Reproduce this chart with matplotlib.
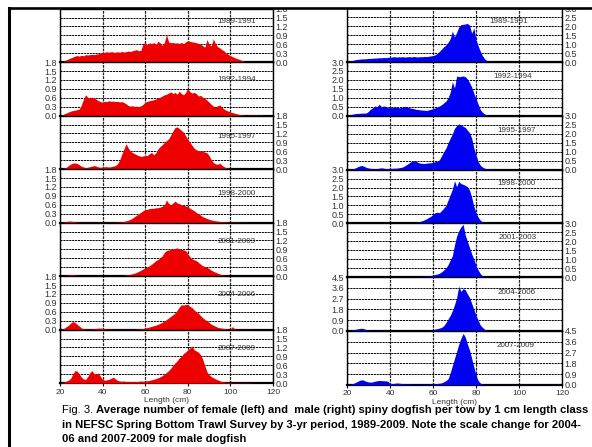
import numpy as np
import matplotlib
matplotlib.use("Agg")
import matplotlib.pyplot as plt
from matplotlib.lines import Line2D
from matplotlib.patches import Rectangle

plt.rcParams['font.family'] = ['Liberation Sans', 'DejaVu Sans']

# length classes (cm), 20..120
lengths = np.arange(20, 121)

periods = ['1989-1991', '1992-1994', '1995-1997', '1998-2000',
           '2001-2003', '2004-2006', '2007-2009']

# females, average number per tow by 1 cm class
female_8991 = [0.00, 0.02, 0.05, 0.08, 0.11, 0.14, 0.17, 0.20, 0.22, 0.20,
               0.23, 0.21, 0.25, 0.24, 0.25, 0.26, 0.25, 0.27, 0.28, 0.30,
               0.32, 0.33, 0.35, 0.33, 0.35, 0.34, 0.33, 0.35, 0.33, 0.36,
               0.34, 0.35, 0.37, 0.36, 0.38, 0.40, 0.42, 0.38, 0.40, 0.62,
               0.66, 0.58, 0.65, 0.62, 0.66, 0.60, 0.70, 0.65, 0.56, 0.66,
               0.93, 0.68, 0.65, 0.66, 0.64, 0.65, 0.63, 0.66, 0.62, 0.68,
               0.72, 0.70, 0.68, 0.67, 0.65, 0.63, 0.60, 0.55, 0.50, 0.76,
               0.60, 0.55, 0.78, 0.62, 0.52, 0.48, 0.42, 0.38, 0.30, 0.26,
               0.22, 0.18, 0.15, 0.12, 0.10, 0.07, 0.04, 0.02, 0.01, 0.01,
               0.01, 0.01, 0.01, 0.01, 0.01, 0.01, 0.00, 0.00, 0.00, 0.00,
               0.00]
female_9294 = [0.00, 0.02, 0.06, 0.09, 0.12, 0.15, 0.17, 0.18, 0.20, 0.22,
               0.35, 0.55, 0.70, 0.62, 0.58, 0.62, 0.60, 0.55, 0.50, 0.47,
               0.45, 0.48, 0.47, 0.50, 0.48, 0.49, 0.47, 0.48, 0.46, 0.47,
               0.44, 0.40, 0.34, 0.32, 0.33, 0.31, 0.32, 0.30, 0.33, 0.38,
               0.45, 0.48, 0.50, 0.52, 0.53, 0.56, 0.60, 0.62, 0.66, 0.70,
               0.72, 0.76, 0.80, 0.74, 0.78, 0.72, 0.82, 0.74, 0.70, 0.78,
               0.92, 0.80, 0.76, 0.78, 0.74, 0.66, 0.68, 0.62, 0.58, 0.52,
               0.45, 0.38, 0.32, 0.28, 0.33, 0.36, 0.28, 0.22, 0.18, 0.15,
               0.12, 0.10, 0.08, 0.06, 0.04, 0.03, 0.02, 0.01, 0.01, 0.02,
               0.01, 0.02, 0.02, 0.01, 0.02, 0.01, 0.01, 0.00, 0.00, 0.00,
               0.00]
female_9597 = [0.00, 0.02, 0.04, 0.06, 0.12, 0.17, 0.20, 0.21, 0.19, 0.15,
               0.10, 0.07, 0.05, 0.06, 0.08, 0.10, 0.12, 0.10, 0.07, 0.06,
               0.07, 0.08, 0.08, 0.07, 0.08, 0.10, 0.12, 0.18, 0.30, 0.50,
               0.68, 0.85, 0.72, 0.60, 0.56, 0.52, 0.48, 0.45, 0.43, 0.44,
               0.45, 0.46, 0.52, 0.56, 0.48, 0.55, 0.68, 0.76, 0.82, 0.90,
               0.96, 1.02, 1.15, 1.28, 1.40, 1.42, 1.36, 1.30, 1.24, 1.12,
               1.00, 0.90, 0.80, 0.70, 0.65, 0.62, 0.60, 0.60, 0.57, 0.55,
               0.45, 0.32, 0.22, 0.18, 0.16, 0.20, 0.13, 0.08, 0.05, 0.03,
               0.02, 0.01, 0.01, 0.01, 0.01, 0.01, 0.01, 0.01, 0.01, 0.01,
               0.01, 0.01, 0.01, 0.01, 0.00, 0.00, 0.00, 0.00, 0.00, 0.00,
               0.00]
female_9800 = [0.00, 0.01, 0.03, 0.04, 0.05, 0.05, 0.04, 0.03, 0.02, 0.01,
               0.01, 0.01, 0.01, 0.01, 0.01, 0.01, 0.01, 0.01, 0.01, 0.01,
               0.01, 0.01, 0.01, 0.01, 0.01, 0.01, 0.01, 0.02, 0.02, 0.03,
               0.04, 0.06, 0.08, 0.11, 0.15, 0.20, 0.25, 0.30, 0.35, 0.40,
               0.43, 0.45, 0.47, 0.48, 0.48, 0.50, 0.50, 0.52, 0.55, 0.60,
               0.76, 0.65, 0.60, 0.66, 0.72, 0.66, 0.64, 0.60, 0.58, 0.56,
               0.54, 0.48, 0.44, 0.40, 0.34, 0.30, 0.25, 0.20, 0.17, 0.14,
               0.11, 0.09, 0.07, 0.06, 0.05, 0.04, 0.03, 0.03, 0.02, 0.02,
               0.01, 0.01, 0.02, 0.02, 0.01, 0.01, 0.01, 0.01, 0.00, 0.00,
               0.00, 0.00, 0.00, 0.00, 0.00, 0.00, 0.00, 0.00, 0.00, 0.00,
               0.00]
female_0103 = [0.00, 0.01, 0.02, 0.03, 0.04, 0.05, 0.05, 0.04, 0.03, 0.02,
               0.01, 0.01, 0.01, 0.01, 0.01, 0.01, 0.01, 0.01, 0.01, 0.01,
               0.01, 0.01, 0.01, 0.01, 0.01, 0.01, 0.02, 0.02, 0.02, 0.02,
               0.03, 0.04, 0.05, 0.06, 0.08, 0.10, 0.13, 0.16, 0.20, 0.24,
               0.28, 0.31, 0.35, 0.40, 0.46, 0.52, 0.56, 0.62, 0.68, 0.80,
               0.86, 0.88, 0.90, 0.91, 0.93, 0.95, 0.92, 0.90, 0.88, 0.86,
               0.75, 0.65, 0.58, 0.55, 0.52, 0.46, 0.40, 0.35, 0.32, 0.30,
               0.25, 0.20, 0.16, 0.13, 0.10, 0.07, 0.05, 0.04, 0.03, 0.02,
               0.02, 0.01, 0.01, 0.01, 0.01, 0.00, 0.00, 0.00, 0.00, 0.00,
               0.00, 0.00, 0.00, 0.00, 0.00, 0.00, 0.00, 0.00, 0.00, 0.00,
               0.00]
female_0406 = [0.00, 0.02, 0.05, 0.10, 0.15, 0.22, 0.27, 0.24, 0.18, 0.12,
               0.06, 0.03, 0.02, 0.02, 0.02, 0.02, 0.03, 0.04, 0.05, 0.05,
               0.04, 0.03, 0.02, 0.02, 0.01, 0.01, 0.01, 0.01, 0.01, 0.01,
               0.01, 0.01, 0.01, 0.01, 0.01, 0.01, 0.02, 0.02, 0.03, 0.04,
               0.05, 0.07, 0.09, 0.11, 0.13, 0.15, 0.18, 0.21, 0.25, 0.29,
               0.34, 0.39, 0.45, 0.50, 0.56, 0.65, 0.76, 0.84, 0.82, 0.85,
               0.84, 0.78, 0.74, 0.66, 0.60, 0.55, 0.47, 0.40, 0.34, 0.30,
               0.24, 0.18, 0.15, 0.11, 0.08, 0.06, 0.05, 0.04, 0.03, 0.02,
               0.02, 0.10, 0.02, 0.01, 0.01, 0.01, 0.01, 0.01, 0.01, 0.01,
               0.00, 0.00, 0.00, 0.00, 0.00, 0.00, 0.00, 0.00, 0.00, 0.00,
               0.00]
female_0709 = [0.00, 0.02, 0.04, 0.07, 0.10, 0.16, 0.30, 0.42, 0.40, 0.32,
               0.20, 0.14, 0.12, 0.22, 0.35, 0.42, 0.32, 0.30, 0.34, 0.22,
               0.12, 0.10, 0.11, 0.13, 0.16, 0.20, 0.14, 0.09, 0.07, 0.06,
               0.07, 0.05, 0.06, 0.05, 0.05, 0.06, 0.05, 0.06, 0.07, 0.06,
               0.07, 0.08, 0.09, 0.11, 0.13, 0.15, 0.18, 0.21, 0.25, 0.30,
               0.36, 0.42, 0.50, 0.60, 0.68, 0.75, 0.85, 0.90, 1.00, 1.05,
               1.12, 1.18, 1.25, 1.12, 1.08, 1.04, 0.95, 0.80, 0.58, 0.38,
               0.28, 0.22, 0.18, 0.14, 0.11, 0.08, 0.06, 0.04, 0.03, 0.02,
               0.02, 0.01, 0.01, 0.01, 0.01, 0.01, 0.01, 0.01, 0.01, 0.01,
               0.00, 0.00, 0.00, 0.00, 0.00, 0.00, 0.00, 0.00, 0.00, 0.00,
               0.00]

# males
male_8991 = [0.00, 0.02, 0.05, 0.10, 0.13, 0.15, 0.16, 0.17, 0.18, 0.18,
             0.20, 0.20, 0.21, 0.22, 0.22, 0.24, 0.23, 0.25, 0.24, 0.26,
             0.25, 0.28, 0.30, 0.27, 0.29, 0.28, 0.30, 0.27, 0.29, 0.30,
             0.28, 0.31, 0.29, 0.28, 0.30, 0.29, 0.31, 0.30, 0.32, 0.34,
             0.36, 0.40, 0.48, 0.60, 0.72, 0.85, 0.95, 1.10, 1.30, 1.72,
             1.40, 1.65, 1.95, 2.08, 2.10, 2.12, 2.15, 2.05, 1.60, 1.90,
             1.25, 0.90, 0.60, 0.35, 0.18, 0.08, 0.05, 0.03, 0.02, 0.01,
             0.01, 0.01, 0.01, 0.01, 0.01, 0.01, 0.01, 0.01, 0.01, 0.01,
             0.01, 0.01, 0.01, 0.01, 0.01, 0.01, 0.01, 0.01, 0.01, 0.01,
             0.01, 0.01, 0.01, 0.01, 0.01, 0.01, 0.01, 0.00, 0.00, 0.00,
             0.00]
male_9294 = [0.00, 0.05, 0.08, 0.10, 0.12, 0.13, 0.14, 0.15, 0.15, 0.16,
             0.25, 0.38, 0.45, 0.55, 0.50, 0.65, 0.50, 0.55, 0.52, 0.45,
             0.46, 0.45, 0.50, 0.48, 0.45, 0.46, 0.50, 0.53, 0.50, 0.45,
             0.42, 0.40, 0.36, 0.35, 0.33, 0.32, 0.31, 0.30, 0.33, 0.36,
             0.40, 0.44, 0.50, 0.55, 0.62, 0.72, 0.82, 1.00, 1.30, 1.90,
             1.55, 2.22, 2.18, 2.20, 2.22, 2.18, 2.05, 1.85, 1.60, 1.25,
             0.95, 0.65, 0.35, 0.20, 0.10, 0.05, 0.03, 0.02, 0.01, 0.01,
             0.01, 0.01, 0.01, 0.01, 0.01, 0.01, 0.01, 0.01, 0.01, 0.01,
             0.01, 0.01, 0.01, 0.01, 0.01, 0.01, 0.01, 0.01, 0.01, 0.01,
             0.01, 0.01, 0.01, 0.01, 0.01, 0.01, 0.00, 0.00, 0.00, 0.00,
             0.00]
male_9597 = [0.00, 0.01, 0.02, 0.05, 0.10, 0.16, 0.21, 0.23, 0.18, 0.12,
             0.09, 0.07, 0.06, 0.05, 0.06, 0.08, 0.10, 0.08, 0.06, 0.06,
             0.06, 0.07, 0.08, 0.08, 0.10, 0.12, 0.15, 0.22, 0.30, 0.38,
             0.46, 0.50, 0.48, 0.40, 0.36, 0.35, 0.34, 0.36, 0.38, 0.38,
             0.40, 0.44, 0.48, 0.55, 0.78, 1.00, 1.20, 1.50, 1.75, 2.00,
             2.30, 2.45, 2.55, 2.50, 2.42, 2.35, 2.20, 2.05, 1.75, 1.20,
             0.80, 0.45, 0.25, 0.14, 0.08, 0.05, 0.03, 0.02, 0.01, 0.01,
             0.01, 0.01, 0.01, 0.01, 0.01, 0.01, 0.01, 0.01, 0.01, 0.01,
             0.01, 0.01, 0.01, 0.01, 0.01, 0.01, 0.01, 0.01, 0.01, 0.01,
             0.01, 0.01, 0.01, 0.01, 0.01, 0.00, 0.00, 0.00, 0.00, 0.00,
             0.00]
male_9800 = [0.00, 0.02, 0.03, 0.04, 0.04, 0.04, 0.03, 0.03, 0.02, 0.02,
             0.01, 0.01, 0.01, 0.01, 0.01, 0.01, 0.01, 0.01, 0.01, 0.01,
             0.01, 0.01, 0.02, 0.02, 0.02, 0.02, 0.02, 0.02, 0.02, 0.03,
             0.04, 0.05, 0.07, 0.09, 0.11, 0.15, 0.20, 0.26, 0.33, 0.40,
             0.50, 0.60, 0.62, 0.60, 0.72, 0.85, 1.00, 1.30, 1.60, 1.90,
             2.38, 2.05, 2.35, 2.22, 2.18, 2.12, 2.05, 1.85, 1.45, 0.95,
             0.60, 0.35, 0.18, 0.08, 0.04, 0.03, 0.02, 0.01, 0.01, 0.01,
             0.01, 0.01, 0.01, 0.01, 0.01, 0.01, 0.01, 0.01, 0.01, 0.01,
             0.01, 0.01, 0.01, 0.01, 0.01, 0.01, 0.02, 0.02, 0.02, 0.02,
             0.02, 0.02, 0.02, 0.02, 0.02, 0.02, 0.01, 0.01, 0.01, 0.00,
             0.00]
male_0103 = [0.00, 0.02, 0.03, 0.04, 0.05, 0.05, 0.05, 0.04, 0.03, 0.03,
             0.02, 0.02, 0.02, 0.02, 0.02, 0.02, 0.02, 0.02, 0.02, 0.02,
             0.02, 0.02, 0.02, 0.02, 0.02, 0.02, 0.02, 0.02, 0.02, 0.02,
             0.02, 0.02, 0.03, 0.03, 0.04, 0.05, 0.06, 0.07, 0.08, 0.10,
             0.12, 0.15, 0.18, 0.22, 0.30, 0.40, 0.52, 0.70, 0.95, 1.20,
             1.80, 2.30, 2.60, 2.80, 2.95, 2.35, 2.00, 1.65, 1.30, 1.00,
             0.65, 0.40, 0.20, 0.08, 0.04, 0.02, 0.01, 0.01, 0.01, 0.01,
             0.01, 0.01, 0.01, 0.01, 0.01, 0.01, 0.01, 0.01, 0.01, 0.01,
             0.01, 0.01, 0.01, 0.01, 0.01, 0.01, 0.01, 0.01, 0.01, 0.01,
             0.01, 0.01, 0.01, 0.01, 0.01, 0.01, 0.01, 0.00, 0.00, 0.00,
             0.00]
male_0406 = [0.00, 0.05, 0.08, 0.11, 0.14, 0.18, 0.21, 0.23, 0.18, 0.12,
             0.08, 0.06, 0.05, 0.05, 0.06, 0.08, 0.07, 0.06, 0.06, 0.05,
             0.03, 0.02, 0.02, 0.02, 0.02, 0.02, 0.02, 0.02, 0.02, 0.02,
             0.02, 0.02, 0.02, 0.02, 0.02, 0.02, 0.02, 0.04, 0.06, 0.08,
             0.12, 0.16, 0.20, 0.25, 0.30, 0.45, 0.70, 1.00, 1.30, 1.70,
             2.20, 2.80, 3.75, 3.30, 3.55, 3.45, 3.10, 2.80, 2.30, 1.80,
             1.30, 0.90, 0.50, 0.30, 0.15, 0.06, 0.03, 0.01, 0.01, 0.01,
             0.01, 0.01, 0.01, 0.01, 0.01, 0.01, 0.01, 0.01, 0.01, 0.01,
             0.01, 0.01, 0.01, 0.01, 0.01, 0.01, 0.01, 0.01, 0.01, 0.01,
             0.01, 0.01, 0.01, 0.01, 0.01, 0.01, 0.00, 0.00, 0.00, 0.00,
             0.00]
male_0709 = [0.00, 0.03, 0.07, 0.12, 0.20, 0.30, 0.38, 0.42, 0.36, 0.28,
             0.24, 0.22, 0.25, 0.30, 0.34, 0.36, 0.35, 0.34, 0.33, 0.30,
             0.12, 0.10, 0.12, 0.15, 0.14, 0.12, 0.10, 0.09, 0.08, 0.07,
             0.06, 0.05, 0.05, 0.05, 0.05, 0.05, 0.05, 0.05, 0.05, 0.06,
             0.07, 0.09, 0.11, 0.13, 0.16, 0.25, 0.35, 0.50, 1.00, 1.60,
             2.20, 2.80, 3.40, 3.90, 4.30, 4.00, 3.40, 2.90, 2.20, 1.50,
             0.80, 0.35, 0.15, 0.06, 0.03, 0.01, 0.01, 0.01, 0.01, 0.01,
             0.01, 0.01, 0.01, 0.01, 0.01, 0.01, 0.01, 0.01, 0.01, 0.01,
             0.01, 0.01, 0.01, 0.01, 0.01, 0.01, 0.01, 0.01, 0.01, 0.01,
             0.01, 0.01, 0.01, 0.01, 0.01, 0.01, 0.00, 0.00, 0.00, 0.00,
             0.00]

female = [female_8991, female_9294, female_9597, female_9800,
          female_0103, female_0406, female_0709]
male = [male_8991, male_9294, male_9597, male_9800,
        male_0103, male_0406, male_0709]

female_ymax = [1.8] * 7
female_step = [0.3] * 7
male_ymax = [3.0, 3.0, 3.0, 3.0, 3.0, 4.5, 4.5]
male_step = [0.5, 0.5, 0.5, 0.5, 0.5, 0.9, 0.9]

x_ticks = [20, 40, 60, 80, 100, 120]

W, H = 592, 447
fig = plt.figure(figsize=(W / 100, H / 100), dpi=100)
fig.patch.set_facecolor('white')

label_col = '#333333'


def draw_column(series, ymaxs, steps, color, left_px, width_px, top_px, panel_px,
                lab_x, lab_y):
    for i, vals in enumerate(series):
        top = top_px + i * panel_px
        ax = fig.add_axes([left_px / W, 1 - (top + panel_px) / H,
                           width_px / W, panel_px / H])
        ax.fill_between(lengths, 0, vals, color=color, lw=0, zorder=3)
        ax.set_xlim(20, 120)
        ax.set_ylim(0, ymaxs[i])
        yt = np.round(np.arange(0, ymaxs[i] + 1e-6, steps[i]), 2)
        ax.set_yticks(yt)
        ax.set_yticklabels(['%.1f' % v for v in yt])
        ax.set_xticks(x_ticks)
        ax.grid(axis='y', color='black', lw=0.7, ls=(0, (2.2, 0.8)), zorder=1)
        ax.grid(axis='x', color='#222222', lw=0.9, ls=(0, (2.2, 0.8)), zorder=1)
        ax.set_axisbelow(True)
        if i % 2 == 0:
            ax.yaxis.tick_right()
        else:
            ax.yaxis.tick_left()
        ax.tick_params(axis='y', length=0, pad=2, labelsize=6.5,
                       labelcolor=label_col)
        ax.tick_params(axis='x', length=2, pad=2, labelsize=6,
                       labelcolor=label_col, labelbottom=(i == len(series) - 1))
        for s in ax.spines.values():
            s.set_linewidth(1.0)
            s.set_color('black')
        ax.spines['bottom'].set_linewidth(1.6)
        ax.text(lab_x[i], lab_y[i], periods[i], transform=ax.transAxes,
                ha='center', va='center', fontsize=5.8, color=label_col,
                zorder=5)
        if i == len(series) - 1:
            ax.set_xlabel('Length (cm)', fontsize=6, color=label_col, labelpad=1)


draw_column(female, female_ymax, female_step, '#ee0000',
            60, 213, 8.6, 53.5,
            [0.83] * 7, [0.75, 0.67, 0.60, 0.54, 0.65, 0.65, 0.64])
draw_column(male, male_ymax, male_step, '#0000f2',
            347, 215, 8.2, 53.8,
            [0.75, 0.77, 0.79, 0.79, 0.795, 0.79, 0.786],
            [0.75, 0.73, 0.73, 0.74, 0.74, 0.71, 0.73])

# page frame
fig.add_artist(Rectangle((0, 1 - 7.5 / H), 1, 7.5 / H, transform=fig.transFigure,
                         facecolor='white', edgecolor='none', zorder=20))
fig.add_artist(Line2D([8.5 / W, 1], [1 - 8 / H, 1 - 8 / H], transform=fig.transFigure,
                      color='black', lw=1.9, zorder=21))
fig.add_artist(Line2D([8.5 / W, 8.5 / W], [1 - 8 / H, 0], transform=fig.transFigure,
                      color='black', lw=2.2, zorder=21))

# caption
cap_fs = 8.1
renderer = fig.canvas.get_renderer()
x0 = 62 / W
t0 = fig.text(x0, 1 - 413 / H, 'Fig. 3. ', fontsize=cap_fs, color='black')
bb = t0.get_window_extent(renderer=renderer)
fig.text(bb.x1 / W, 1 - 413 / H,
         'Average number of female (left) and  male (right) spiny dogfish per tow by 1 cm length class',
         fontsize=cap_fs, fontweight='bold', color='black')
fig.text(x0, 1 - 427.5 / H,
         'in NEFSC Spring Bottom Trawl Survey by 3-yr period, 1989-2009. Note the scale change for 2004-',
         fontsize=cap_fs, fontweight='bold', color='black')
fig.text(x0, 1 - 442 / H, '06 and 2007-2009 for male dogfish',
         fontsize=cap_fs, fontweight='bold', color='black')

fig.savefig('out.png', dpi=100, facecolor='white')
